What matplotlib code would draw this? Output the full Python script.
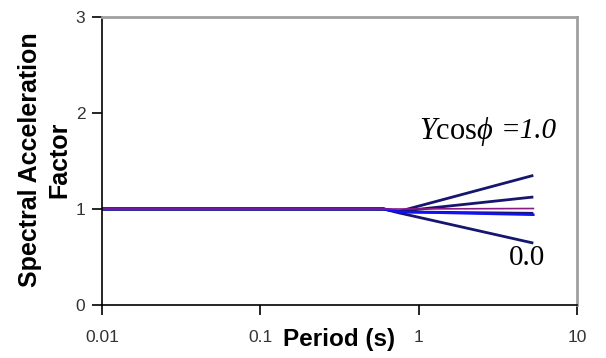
import matplotlib
matplotlib.use("Agg")
import matplotlib.pyplot as plt

period_pts = [0.01, 0.6, 0.75, 5.3]
curve_top = [1.0, 1.0, 0.975, 1.35]
curve_second = [1.0, 1.0, 0.975, 1.125]
curve_third = [1.0, 1.0, 0.97, 0.955]
curve_bottom = [1.0, 1.0, 0.96, 0.645]
curve_blue = [1.0, 1.0, 0.97, 0.94]
curve_ref = [1.0, 1.0, 1.0, 1.005]

xticks = [0.01, 0.1, 1, 10]
xticklabels = ["0.01", "0.1", "1", "10"]
yticks = [0, 1, 2, 3]

plt.rcParams['font.family'] = ['Liberation Sans', 'DejaVu Sans']
plt.rcParams['mathtext.fontset'] = 'custom'
plt.rcParams['mathtext.rm'] = 'Liberation Serif'
plt.rcParams['mathtext.it'] = 'Liberation Serif:italic'
plt.rcParams['mathtext.fallback'] = 'stix'

fig = plt.figure(figsize=(6.06, 3.58), dpi=100)
ax = fig.add_axes([102/606, 1-305/358, (577-102)/606, (305-17)/358])

navy = '#16166e'
for c in (curve_top, curve_second, curve_third, curve_bottom):
    ax.plot(period_pts, c, color=navy, lw=2.0, solid_capstyle='butt')
ax.plot(period_pts, curve_blue, color='#1010ff', lw=1.8)
ax.plot(period_pts, curve_ref, color='#8a1a8a', lw=1.2)

ax.set_xscale('log')
ax.set_xlim(0.01, 10)
ax.set_ylim(0, 3)
ax.set_xticks(xticks)
ax.set_xticklabels(xticklabels)
ax.set_yticks(yticks)
ax.minorticks_off()
ax.tick_params(axis='both', direction='out', length=7, width=1.2, colors='black',
               labelcolor='#333333', labelsize=12.5)
ax.tick_params(axis='x', pad=11)
ax.tick_params(axis='y', pad=5)

for s in ('left', 'bottom'):
    ax.spines[s].set_color('black')
    ax.spines[s].set_linewidth(1.2)
for s in ('top', 'right'):
    ax.spines[s].set_color('#a0a0a0')
    ax.spines[s].set_linewidth(2.0)

ax.set_xlabel('Period (s)', fontsize=17.5, fontweight='bold')
ax.xaxis.set_label_coords(0.5, -0.08)
ax.set_ylabel('Spectral Acceleration\nFactor', fontsize=18, fontweight='bold',
              linespacing=1.3)
ax.yaxis.set_label_coords(-0.064, 0.505)

fig.text(419/606, 1-132/358, r'$Y\mathrm{cos}\phi$', fontsize=22,
         va='center', ha='left')
fig.text(557/606, 1-131/358, '=1.0', fontsize=21, family='Liberation Serif',
         style='italic', va='center', ha='right')
fig.text(527/606, 1-258/358, '0.0', fontsize=21, family='Liberation Serif',
         ha='center', va='center')

fig.savefig('out.png', dpi=100)
